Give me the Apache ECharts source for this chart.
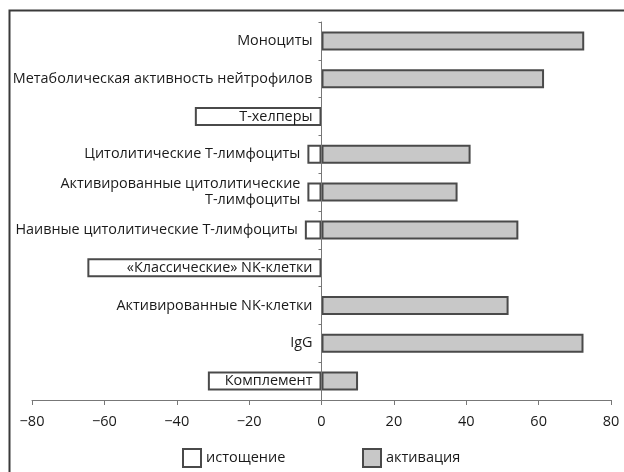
<!DOCTYPE html>
<html>
<head>
<meta charset="utf-8">
<script src="https://cdn.jsdelivr.net/npm/echarts@6/dist/echarts.min.js"></script>
<style>
html,body{margin:0;padding:0;background:#fff;}
#chart{width:624px;height:472px;}
</style>
</head>
<body>
<div id="chart"></div>
<script>
var categories = [
  'Моноциты',
  'Метаболическая активность нейтрофилов',
  'Т-хелперы',
  'Цитолитические Т-лимфоциты',
  'Активированные цитолитические\nТ-лимфоциты',
  'Наивные цитолитические Т-лимфоциты',
  '«Классические» NK-клетки',
  'Активированные NK-клетки',
  'IgG',
  'Комплемент'
];
var depletion = [null, null, -35, -3.9, -3.9, -4.6, -64.7, null, null, -31.4];
var activation = [72.6, 61.5, null, 41.2, 37.6, 54.4, null, 51.7, 72.4, 10.1];
var seriesNames = ['истощение', 'активация'];
var xTicks = [-80, -60, -40, -20, 0, 20, 40, 60, 80];

var FONT = 'Open Sans';
var LABEL_SIZE = 14.4;
var GRID_LEFT = 32, GRID_RIGHT = 13;
var gridW = 624 - GRID_LEFT - GRID_RIGHT;
var xSpan = xTicks[xTicks.length - 1] - xTicks[0];
var pxPerUnit = gridW / xSpan;
var zeroOffset = gridW * (0 - xTicks[0]) / xSpan;

// Labels sit on top of long negative bars, but step left of short ones.
var rich = {};
categories.forEach(function (c, i) {
  var v = depletion[i];
  var pad = (v != null && Math.abs(v) < 10) ? Math.abs(v) * pxPerUnit - 2 : 0;
  rich['p' + i] = {
    fontSize: LABEL_SIZE, fontFamily: FONT, color: '#1a1a1a', lineHeight: 16,
    align: 'right', padding: [0, pad, 0, 0]
  };
});

var chart = echarts.init(document.getElementById('chart'), null, {renderer: 'canvas'});
chart.setOption({
  animation: false,
  backgroundColor: '#fff',
  textStyle: {fontFamily: FONT},
  grid: {left: GRID_LEFT, right: GRID_RIGHT, top: 22, bottom: 72, containLabel: false, outerBoundsMode: 'none'},
  xAxis: {
    type: 'value',
    min: xTicks[0],
    max: xTicks[xTicks.length - 1],
    interval: 20,
    splitLine: {show: false},
    axisLine: {show: true, lineStyle: {color: '#777', width: 1}},
    axisTick: {show: true, inside: false, length: 5, lineStyle: {color: '#777'}},
    axisLabel: {
      color: '#1a1a1a', fontSize: 14.5, fontFamily: FONT, margin: 14,
      formatter: function (v) { return v < 0 ? '\u2212' + Math.abs(v) : String(v); }
    }
  },
  yAxis: {
    type: 'category',
    data: categories,
    inverse: true,
    position: 'left',
    offset: -zeroOffset,
    z: 10,
    axisLine: {show: true, onZero: false, lineStyle: {color: '#777', width: 1}},
    axisTick: {show: true, length: 3, lineStyle: {color: '#777'}},
    axisLabel: {
      color: '#1a1a1a', fontSize: LABEL_SIZE, fontFamily: FONT, margin: 9, lineHeight: 16, align: 'right',
      rich: rich,
      formatter: function (value, index) {
        return value.split('\n').map(function (line) {
          return '{p' + index + '|' + line + '}';
        }).join('\n');
      }
    }
  },
  legend: [
    {
      data: [seriesNames[0]], left: 177, top: 443, itemWidth: 18, itemHeight: 18, itemGap: 4,
      icon: 'rect',
      textStyle: {color: '#1a1a1a', fontSize: 14.5, fontFamily: FONT}
    },
    {
      data: [seriesNames[1]], left: 357, top: 443, itemWidth: 18, itemHeight: 18, itemGap: 4,
      icon: 'rect',
      textStyle: {color: '#1a1a1a', fontSize: 14.5, fontFamily: FONT}
    }
  ],
  series: [
    {
      name: seriesNames[0], type: 'bar', data: depletion, barWidth: 19, barGap: '-100%',
      itemStyle: {color: '#ffffff', borderColor: '#4a4a4a', borderWidth: 2}
    },
    {
      name: seriesNames[1], type: 'bar', data: activation, barWidth: 19,
      itemStyle: {color: '#c8c8c8', borderColor: '#4a4a4a', borderWidth: 2}
    }
  ],
  graphic: [
    {
      type: 'polyline', silent: true, z: 100,
      shape: {points: [[9.5, 472], [9.5, 10.5], [624, 10.5]]},
      style: {stroke: '#3a3a3a', lineWidth: 2, fill: null}
    }
  ]
});
</script>
</body>
</html>
